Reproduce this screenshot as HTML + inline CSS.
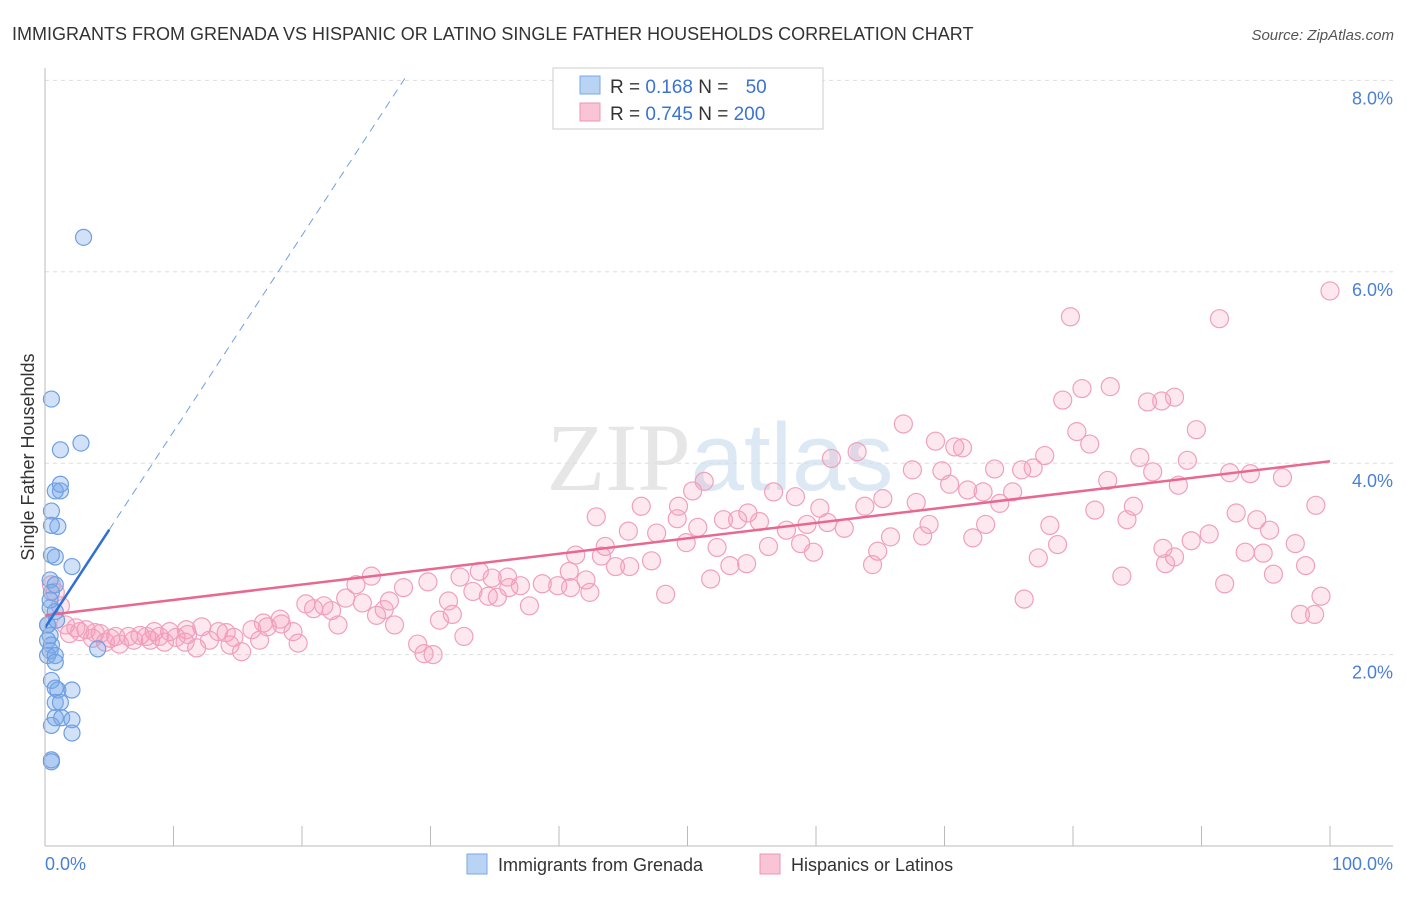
<!DOCTYPE html>
<html><head><meta charset="utf-8"><style>
body{margin:0;background:#fff;font-family:"Liberation Sans",sans-serif}
</style></head><body>
<svg id="c" width="1406" height="892" xmlns="http://www.w3.org/2000/svg">
<text x="12" y="40" font-size="18" fill="#333">IMMIGRANTS FROM GRENADA VS HISPANIC OR LATINO SINGLE FATHER HOUSEHOLDS CORRELATION CHART</text>
<text x="1394" y="40" font-size="15" fill="#555" font-style="italic" text-anchor="end">Source: ZipAtlas.com</text>
<text x="720" y="490" font-size="96" fill="#e6e6e6" text-anchor="middle" font-family="Liberation Serif">ZIP<tspan fill="#dce8f4" font-family="Liberation Sans">atlas</tspan></text>
<g id="grid"></g>
<g id="pts"></g>
<g id="lines"></g>
<line x1="45" y1="68" x2="45" y2="846" stroke="#bbb"/>
<line x1="45" y1="846" x2="1393" y2="846" stroke="#bbb"/>
<text transform="translate(34,457) rotate(-90)" font-size="18" fill="#333" text-anchor="middle">Single Father Households</text>
<text x="45" y="870" font-size="18" fill="#4a7fd6">0.0%</text>
<text x="1393" y="870" font-size="18" fill="#4a7fd6" text-anchor="end">100.0%</text>
<g>
<rect x="553" y="68" width="270" height="61" fill="#fff" stroke="#ccc"/>
<rect x="580" y="76" width="20" height="18" fill="#b8d3f4" stroke="#7aa8e6"/>
<rect x="580" y="103" width="20" height="18" fill="#f9c4d6" stroke="#ee95b4"/>
<text x="610" y="93" font-size="19" fill="#333">R = <tspan fill="#3b73d1">0.168</tspan>   N = <tspan fill="#3b73d1" dx="12">50</tspan></text>
<text x="610" y="120" font-size="19" fill="#333">R = <tspan fill="#3b73d1">0.745</tspan>   N = <tspan fill="#3b73d1">200</tspan></text>
</g>
<g>
<rect x="467" y="854" width="20" height="20" fill="#b8d3f4" stroke="#7aa8e6"/>
<text x="498" y="871" font-size="18" fill="#333">Immigrants from Grenada</text>
<rect x="760" y="854" width="20" height="20" fill="#f9c4d6" stroke="#ee95b4"/>
<text x="791" y="871" font-size="18" fill="#333">Hispanics or Latinos</text>
</g>
</svg>
<script>
const yTicks=[2,4,6,8];
const xTicks=[0,10,20,30,40,50,60,70,80,90,100];
const blueX=[3,0.5,1.2,2.8,1.2,0.8,1.2,0.5,1,0.5,0.5,0.8,2.1,0.4,0.8,0.5,0.4,0.8,0.2,0.4,0.2,0.5,0.4,0.2,0.8,4.1,0.8,0.5,1,0.8,2.1,0.8,1.2,0.8,1.3,2.1,0.5,2.1,0.5,0.5,0.2,0.4,0.9];
const blueY=[6.36,4.67,4.14,4.21,3.71,3.71,3.78,3.5,3.34,3.35,3.04,3.02,2.92,2.78,2.73,2.65,2.49,2.45,2.31,2.2,2.15,2.1,2.04,1.99,1.99,2.06,1.92,1.73,1.63,1.65,1.63,1.5,1.5,1.34,1.34,1.32,1.26,1.18,0.9,0.88,2.31,2.57,2.36];
const pinkX=[100,79.8,91.4,82.9,80.7,79.2,85.8,86.9,87.9,66.8,80.3,89.6,69.3,70.8,71.4,81.3,63.2,61.2,77.8,85.2,88.9,67.5,69.8,73.9,76,76.9,86.2,92.2,93.8,96.3,51.3,70.4,82.7,88.2,71.8,56.7,73,75.3,50.4,74.3,58.4,65.2,67.8,63.8,46.4,49.3,60.3,84.7,98.9,54.7,49.2,42.9,53.9,55.6,52.8,81.7,92.7,94.3,84.2,59.3,60.9,62.2,73.2,78.2,68.8,57.7,50.8,45.4,47.6,95.3,90.6,89.2,87,65.8,68.3,72.2,43.6,49.9,52.3,56.3,58.8,59.8,64.8,78.8,97.3,93.4,94.8,41.3,43.3,47.2,77.3,87.9,44.4,45.5,64.4,53.3,54.6,98.1,87.2,40.8,42.1,51.8,83.8,95.6,32.3,34.8,36,33.8,25.4,29.8,91.8,24.2,37,38.7,39.9,40.9,42.4,27.9,33.3,34.5,35.2,36.1,48.3,31.4,76.2,99.3,23.4,26.8,24.7,37.7,20.3,21.7,20.9,26.4,22.3,30.7,31.7,97.7,98.8,25.8,22.8,27.2,18.3,17,17.3,18.4,19.3,16.1,14.7,13.5,12.2,11,9.7,8.5,7.4,6.5,5.5,4.3,3.2,2.4,1.6,1.2,0.5,0.8,29,29.5,30.2,32.6,19.7,15.3,14.4,11.8,10.9,9.3,8.2,6.9,5.8,4.7,3.7,16.7,12.8,10.2,7.9,8.9,11.1,14.1,1.9,2.7,3.9,5.1];
const pinkY=[5.8,5.53,5.51,4.8,4.78,4.66,4.64,4.65,4.69,4.41,4.33,4.35,4.23,4.17,4.16,4.2,4.12,4.05,4.08,4.06,4.03,3.93,3.92,3.94,3.93,3.95,3.91,3.9,3.89,3.85,3.81,3.78,3.82,3.77,3.72,3.7,3.7,3.7,3.71,3.58,3.65,3.63,3.59,3.55,3.55,3.55,3.53,3.55,3.56,3.48,3.42,3.44,3.41,3.39,3.41,3.51,3.48,3.41,3.41,3.36,3.38,3.32,3.36,3.35,3.36,3.3,3.33,3.29,3.27,3.3,3.26,3.19,3.11,3.23,3.24,3.22,3.13,3.17,3.12,3.13,3.16,3.07,3.08,3.15,3.16,3.07,3.06,3.04,3.03,2.98,3.01,3.02,2.92,2.92,2.94,2.93,2.95,2.93,2.95,2.87,2.78,2.79,2.82,2.84,2.81,2.8,2.81,2.87,2.82,2.76,2.74,2.73,2.72,2.74,2.72,2.7,2.65,2.7,2.66,2.61,2.6,2.7,2.63,2.56,2.58,2.61,2.59,2.56,2.54,2.51,2.53,2.51,2.48,2.47,2.46,2.36,2.42,2.42,2.42,2.41,2.31,2.31,2.37,2.33,2.29,2.32,2.24,2.26,2.18,2.24,2.29,2.26,2.24,2.24,2.2,2.19,2.19,2.22,2.26,2.28,2.31,2.51,2.73,2.65,2.11,2.01,2,2.19,2.12,2.03,2.1,2.07,2.13,2.13,2.15,2.15,2.11,2.13,2.17,2.15,2.15,2.18,2.19,2.19,2.21,2.23,2.22,2.24,2.23,2.17];
const blueTrend=[2.28,0.205];
const pinkTrend=[2.41,0.0161];
const NS="http://www.w3.org/2000/svg";
const X=v=>45+v*12.85, Y=v=>846-v*95.7;
function mk(t,a,p){const e=document.createElementNS(NS,t);for(const k in a)e.setAttribute(k,a[k]);document.getElementById(p).appendChild(e);return e;}
yTicks.forEach(t=>{
 const l=mk('line',{x1:45,x2:1393,y1:Y(t),y2:Y(t),stroke:'#ddd','stroke-dasharray':'4,4'},'grid');
 
 
 const tx=mk('text',{x:1393,y:Y(t)+24,'font-size':18,fill:'#4a7fd6','text-anchor':'end'},'grid');
 tx.textContent=t.toFixed(1)+'%';
 
 
});
xTicks.forEach(t=>{
 const l=mk('line',{x1:X(t),x2:X(t),y1:826,y2:846,stroke:'#bbb'},'grid');
 
 
});
pinkX.forEach((x,i)=>{
 const c=mk('circle',{cx:X(x),cy:Y(pinkY[i]),r:9,fill:'rgba(244,150,182,0.22)',stroke:'#f0a0bd','stroke-width':1.2},'pts');
 
 
});
blueX.forEach((x,i)=>{
 const c=mk('circle',{cx:X(x),cy:Y(blueY[i]),r:8,fill:'rgba(120,170,235,0.35)',stroke:'#6f9fe0','stroke-width':1.2},'pts');
 
 
});
const pl=mk('line',{x1:X(0),y1:Y(pinkTrend[0]),x2:X(100),y2:Y(pinkTrend[0]+100*pinkTrend[1]),stroke:'#e8688f','stroke-width':2.5},'lines');


const bl=mk('line',{x1:X(0),y1:Y(blueTrend[0]),x2:X(5),y2:Y(blueTrend[0]+5*blueTrend[1]),stroke:'#2f6fd6','stroke-width':2.5},'lines');


const bd=mk('line',{x1:X(5),y1:Y(blueTrend[0]+5*blueTrend[1]),x2:X(28),y2:Y(blueTrend[0]+28*blueTrend[1]),stroke:'#6f9fe0','stroke-width':1,'stroke-dasharray':'8,6'},'lines');


</script>
</body></html>
